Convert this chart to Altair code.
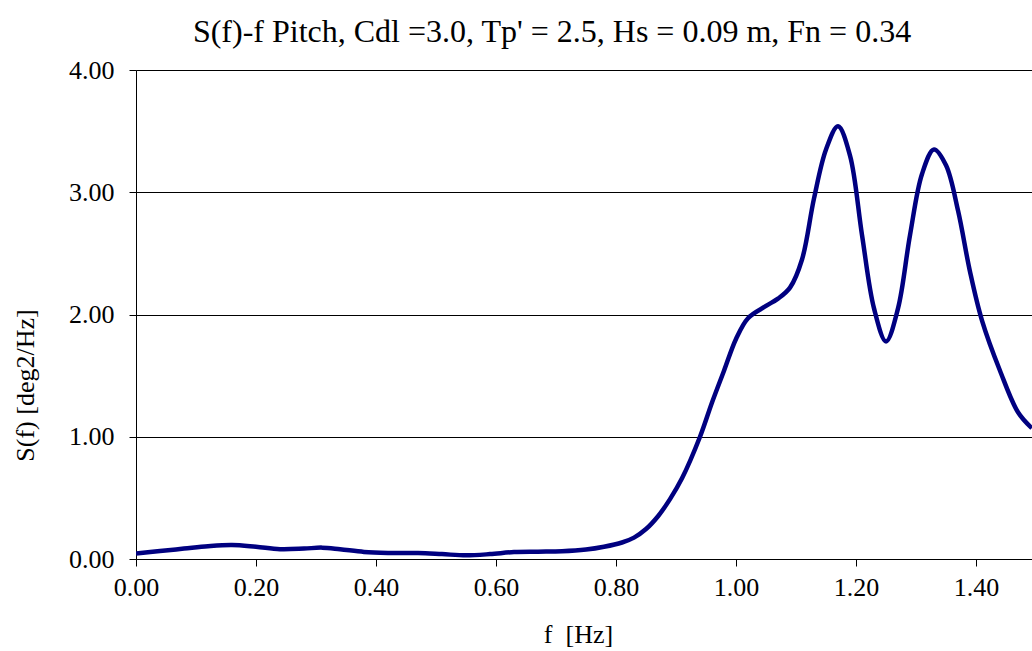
import altair as alt
import pandas as pd

freq = [0.00, 0.04, 0.08, 0.12, 0.16, 0.20, 0.24, 0.28, 0.31, 0.34, 0.38, 0.42, 0.47,
        0.51, 0.55, 0.59, 0.63, 0.67, 0.71, 0.75, 0.78, 0.81, 0.83, 0.85, 0.87, 0.89,
        0.91, 0.94, 0.96, 0.98, 1.00, 1.02, 1.05, 1.07, 1.09, 1.11, 1.13, 1.15, 1.17,
        1.19, 1.21, 1.23, 1.25, 1.27, 1.29, 1.31, 1.33, 1.35, 1.37, 1.39, 1.41, 1.44,
        1.47, 1.493]
spec = [0.044, 0.065, 0.085, 0.105, 0.115, 0.10, 0.08, 0.085, 0.093, 0.08, 0.058, 0.05,
        0.049, 0.04, 0.03, 0.04, 0.057, 0.06, 0.063, 0.077, 0.10, 0.135, 0.175, 0.245, 0.35,
        0.49, 0.66, 1.00, 1.28, 1.54, 1.80, 1.97, 2.07, 2.13, 2.22, 2.45, 2.95, 3.35,
        3.54, 3.30, 2.65, 2.05, 1.78, 2.05, 2.65, 3.15, 3.35, 3.22, 2.85, 2.35, 1.95,
        1.54, 1.20, 1.07]

x_ticks = [0.0, 0.2, 0.4, 0.6, 0.8, 1.0, 1.2, 1.4]
y_ticks = [0.0, 1.0, 2.0, 3.0, 4.0]

df = pd.DataFrame({"f": freq, "S": spec})

FONT = "Liberation Serif"

chart = alt.Chart(df).mark_line(
    color="#000080", strokeWidth=4.5, interpolate="catmull-rom", clip=True
).encode(
    x=alt.X("f:Q", scale=alt.Scale(domain=[0, 1.4933], nice=False, zero=False),
            axis=alt.Axis(values=x_ticks, format=".2f", title="f\u00a0 [Hz]",
                          grid=False, tickSize=7, tickColor="black", domainColor="black",
                          labelFont=FONT, labelFontSize=26, labelColor="black",
                          labelPadding=8, titleFont=FONT, titleFontSize=26,
                          titleFontWeight="normal", titleColor="black",
                          titleX=442, titleY=83, titleAlign="center",
                          titleBaseline="alphabetic", labelFlush=False)),
    y=alt.Y("S:Q", scale=alt.Scale(domain=[0, 4], nice=False),
            axis=alt.Axis(values=y_ticks, format=".2f", title="S(f) [deg2/Hz]",
                          grid=True, gridColor="black", gridWidth=1, tickSize=7,
                          tickColor="black", domainColor="black",
                          labelFont=FONT, labelFontSize=26, labelColor="black",
                          labelPadding=15, titleFont=FONT, titleFontSize=26,
                          titleFontWeight="normal", titleColor="black",
                          titleX=-111, titleY=315, titleAngle=270, titleAlign="center",
                          titleBaseline="middle")),
).properties(
    width=896, height=489,
    padding={"left": 136, "top": 70, "right": 0, "bottom": 92},
    autosize="none",
    title=alt.TitleParams(
        "S(f)-f Pitch, Cdl =3.0, Tp' = 2.5, Hs = 0.09 m, Fn = 0.34",
        font=FONT, fontSize=32, fontWeight="normal", color="black",
        anchor="middle", frame="group", dx=-32, offset=8),
).configure_view(stroke=None).configure(background="white")

chart.save("out.html", embed_options={"renderer": "svg", "actions": False})
